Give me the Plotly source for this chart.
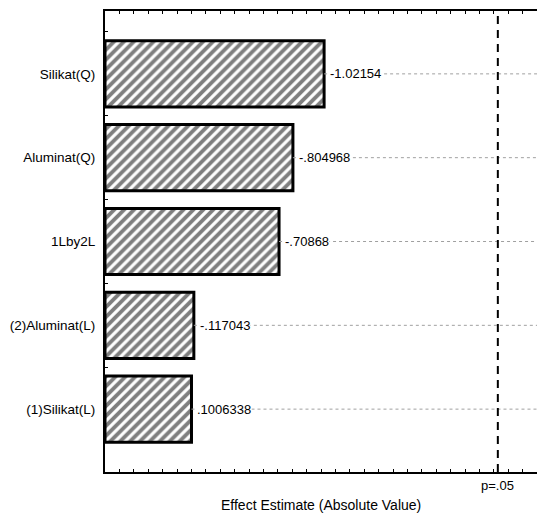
import plotly.graph_objects as go

# Pareto chart of standardized effects
effects = ["Silikat(Q)", "Aluminat(Q)", "1Lby2L", "(2)Aluminat(L)", "(1)Silikat(L)"]
estimates = [-1.02154, -0.804968, -0.70868, -0.117043, 0.1006338]
labels = ["-1.02154", "-.804968", "-.70868", "-.117043", ".1006338"]
p_crit = 2.228          # critical value for p = .05
p_label = "p=.05"
x_title = "Effect Estimate (Absolute Value)"

XMIN, XMAX = -0.5, 2.5
FAMILY = "Liberation Sans, Arial, sans-serif"
FONT = dict(family=FAMILY, size=13, color="black")

abs_vals = [abs(v) for v in estimates]

fig = go.Figure()

# dotted guide lines from bar end to the right edge
for cat, v in zip(effects, abs_vals):
    fig.add_trace(go.Scatter(
        x=[v, XMAX], y=[cat, cat], mode="lines",
        line=dict(color="#a0a0a0", width=1, dash="dot"),
        hoverinfo="skip", showlegend=False,
    ))

fig.add_trace(go.Bar(
    y=effects,
    x=[v - XMIN for v in abs_vals],
    base=XMIN,
    orientation="h",
    width=0.79,
    marker=dict(
        color="white",
        line=dict(color="black", width=3),
        pattern=dict(shape="/", fgcolor="black", bgcolor="white",
                     size=7, solidity=0.55),
    ),
    showlegend=False,
))

for cat, v, t in zip(effects, abs_vals, labels):
    fig.add_annotation(
        x=v, y=cat, text=t, showarrow=False, xanchor="left",
        xshift=5, bgcolor="white", borderpad=0, font=FONT,
    )

# significance threshold
fig.add_shape(type="line", x0=p_crit, x1=p_crit, y0=0, y1=1,
              xref="x", yref="paper",
              line=dict(color="black", width=2, dash="8px,6px"))
fig.add_annotation(x=p_crit, y=0, xref="x", yref="paper", text=p_label,
                   showarrow=False, yanchor="top", yshift=-4, font=FONT)
fig.add_annotation(x=0.5, y=0, xref="paper", yref="paper", text=x_title,
                   showarrow=False, yanchor="middle", yshift=-33,
                   font=dict(family=FAMILY, size=14, color="black"))

fig.update_xaxes(
    range=[XMIN, XMAX], showgrid=False, zeroline=False,
    showline=True, linecolor="black", linewidth=2, mirror="ticks",
    ticks="inside", ticklen=3, tickcolor="black", tickwidth=1,
    tick0=0, dtick=0.1, showticklabels=False,
)
fig.update_yaxes(
    type="category", categoryorder="array", categoryarray=effects,
    range=[4.75, -0.75], showgrid=False, zeroline=False,
    showline=True, linecolor="black", linewidth=2,
    ticks="inside", ticklen=3, tickcolor="black", tickwidth=1,
    tickson="boundaries", ticklabelstandoff=5,
    tickfont=dict(family=FAMILY, size=13.5, color="black"),
)

fig.update_layout(
    width=537, height=516,
    margin=dict(l=105, r=0, t=11, b=44),
    plot_bgcolor="white", paper_bgcolor="white",
    font=FONT, bargap=0.21,
)

fig.write_html("out.html")
